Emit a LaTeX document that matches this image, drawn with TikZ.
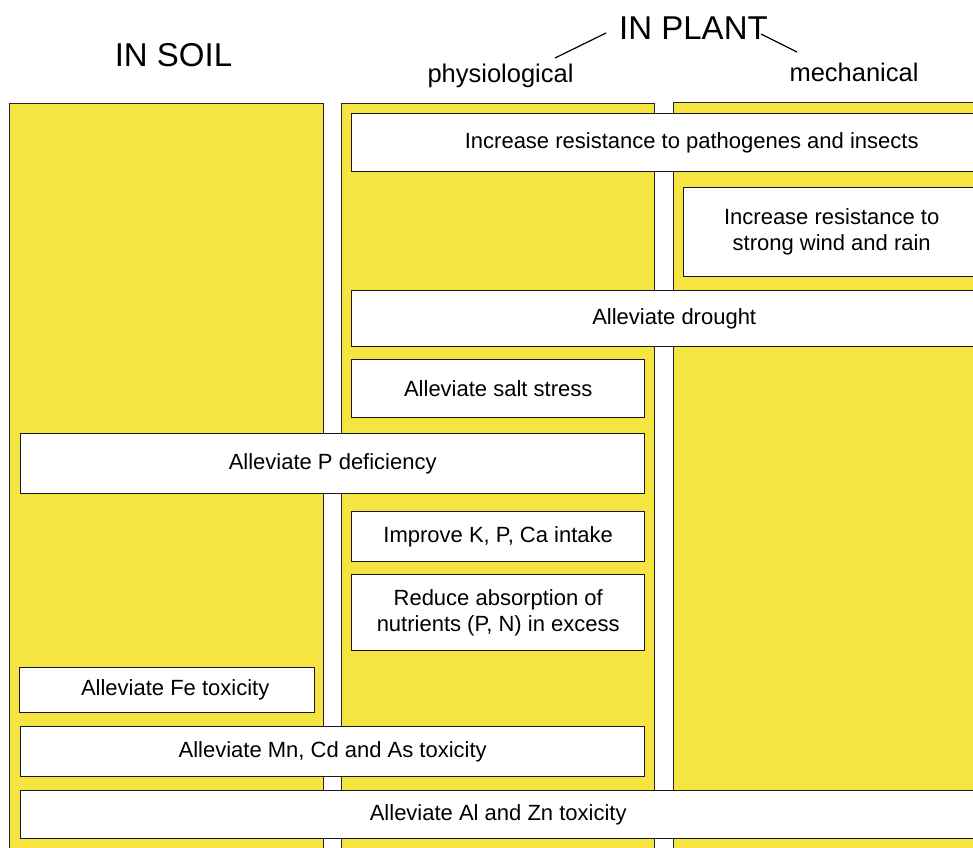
\documentclass[tikz,border=0pt]{standalone}
\usepackage{fontspec}
\setmainfont{Liberation Sans}
\definecolor{colyellow}{RGB}{246,228,64}
\tikzset{
  x=1pt, y=-1pt,
  colbox/.style={draw=black!85, line width=1pt, fill=colyellow},
  item/.style={draw=black!90, line width=1.4pt, fill=white, anchor=north west, inner sep=0pt, align=center, font=\fontsize{22}{26}\selectfont},
  head/.style={anchor=base, inner sep=0pt, font=\fontsize{33}{36}\selectfont},
  subhead/.style={anchor=base, inner sep=0pt, font=\fontsize{25.5}{28}\selectfont},
  leader/.style={draw=black, line width=1.2pt}
}
\begin{document}
\begin{tikzpicture}
\useasboundingbox (0,0) rectangle (973,847);
\clip (0,0) rectangle (973,847);
% headings
\node[head] (soil) at (173.5,66) {IN SOIL};
\node[head] (plant) at (693.5,39) {IN PLANT};
\node[subhead] (phys) at (500.5,82) {physiological};
\node[subhead] (mech) at (854,81) {mechanical};
\coordinate (l1a) at (555,58);
\coordinate (l1b) at (606,33);
\coordinate (l2a) at (761,34);
\coordinate (l2b) at (797,52);
\draw[leader] (l1a) -- (l1b);
\draw[leader] (l2a) -- (l2b);
% columns
\path[colbox] (9.5,103) rectangle (323,870);
\path[colbox] (341,103) rectangle (654,870);
\path[colbox] (673,102) rectangle (1000,870);
% boxes
\node[item, minimum width=680, minimum height=58] (path) at (351,113) {Increase resistance to pathogenes and insects};
\node[item, minimum width=296, minimum height=89] (wind) at (683,187) {Increase resistance to\\strong wind and rain};
\node[item, minimum width=645, minimum height=56] (drought) at (351,290) {Alleviate drought};
\node[item, minimum width=293, minimum height=58] (salt) at (351,359) {Alleviate salt stress};
\node[item, minimum width=624, minimum height=60] (pdef) at (20,433) {Alleviate P deficiency};
\node[item, minimum width=293, minimum height=50] (kpca) at (351,511) {Improve K, P, Ca intake};
\node[item, minimum width=293, minimum height=76] (reduce) at (351,574) {Reduce absorption of\\nutrients (P, N) in excess};
\node[item, minimum width=295, minimum height=45] (fe) at (19,667) {\hspace*{16pt}Alleviate Fe toxicity};
\node[item, minimum width=624, minimum height=50] (mn) at (20,726) {Alleviate Mn, Cd and As toxicity};
\node[item, minimum width=955, minimum height=48] (al) at (20,790) {Alleviate Al and Zn toxicity};
\end{tikzpicture}
\end{document}
